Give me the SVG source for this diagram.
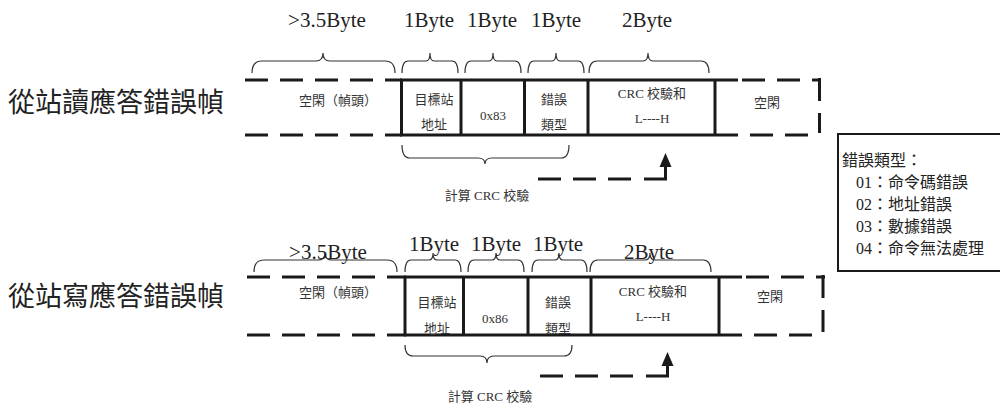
<svg xmlns="http://www.w3.org/2000/svg" width="1000" height="408" viewBox="0 0 1000 408">
<defs>
<style>
.t{font-family:"Liberation Serif","Noto Sans CJK TC",serif;fill:#222;}
.big{font-size:27px;}
.byte{font-size:21px;text-anchor:middle;}
.cell{font-size:13px;text-anchor:middle;fill:#333;}
.leg{font-size:16px;}
.solid{stroke:#1a1a1a;stroke-width:3;fill:none;}
.dash{stroke:#1a1a1a;stroke-width:3;fill:none;stroke-dasharray:23 12;}
.brace{stroke:#333;stroke-width:1.2;fill:none;}
.head{fill:#1a1a1a;}
</style>
</defs>
<rect width="1000" height="408" fill="#fff"/>

<g id="label-read"><text class="t big" x="8" y="112">從站讀應答錯誤幀</text></g>
<g id="label-write"><text class="t big" x="8" y="306">從站寫應答錯誤幀</text></g>

<!-- Frame 1 -->
<g id="frame1">
<path class="dash" d="M245,80 H402 M245,135 H402"/>
<path class="solid" d="M400,80 H738 M400,135 H738"/>
<path class="solid" d="M401.5,80 V135 M461,80 V135 M524.5,80 V135 M588,80 V135 M715,80 V135"/>
<path class="dash" d="M742,80 H821" stroke-dasharray="23 12"/>
<path class="dash" d="M750,135 H812" stroke-dasharray="25 10"/>
<path class="dash" d="M819.5,78 V133" stroke-dasharray="19 11"/>
</g>
<g id="bytes1">
<text class="t byte" x="327" y="27">&gt;3.5Byte</text>
<text class="t byte" x="429" y="27">1Byte</text>
<text class="t byte" x="492" y="27">1Byte</text>
<text class="t byte" x="556" y="27">1Byte</text>
<text class="t byte" x="647" y="27">2Byte</text>
</g>
<g id="braces1">
<path class="brace" d="M252,73 Q252,61 262,61 H316 Q323,61 323,53 Q323,61 330,61 H385 Q395,61 395,73"/>
<path class="brace" d="M402,73 Q402,61 408,61 H426 Q430,61 430,53 Q430,61 434,61 H452 Q458,61 458,73"/>
<path class="brace" d="M465,73 Q465,61 471,61 H489 Q493,61 493,53 Q493,61 497,61 H515 Q521,61 521,73"/>
<path class="brace" d="M528,73 Q528,61 534,61 H552 Q556,61 556,53 Q556,61 560,61 H578 Q584,61 584,73"/>
<path class="brace" d="M589,73 Q589,61 597,61 H643 Q648,61 648,53 Q648,61 653,61 H701 Q709,61 709,73"/>
<path class="brace" d="M402,145 Q402,158 410,158 H478 Q485,158 485,164 Q485,158 492,158 H561 Q569,158 569,145"/>
</g>
<g id="cells1">
<text class="t cell" x="338" y="105">空閑（幀頭）</text>
<text class="t cell" x="434" y="104">目標站</text>
<text class="t cell" x="434" y="129">地址</text>
<text class="t cell" x="493" y="120">0x83</text>
<text class="t cell" x="554" y="104">錯誤</text>
<text class="t cell" x="554" y="129">類型</text>
<text class="t cell" x="652" y="98">CRC 校驗和</text>
<text class="t cell" x="652" y="123">L----H</text>
<text class="t cell" x="767" y="107">空閑</text>
<text class="t cell" x="487" y="200">計算 CRC 校驗</text>
</g>

<!-- Frame 2 -->
<g id="frame2">
<path class="dash" d="M247,277 H406 M247,335 H406"/>
<path class="solid" d="M404,277 H742 M404,335 H742"/>
<path class="solid" d="M405,277 V335 M463.5,277 V335 M528,277 V335 M591,277 V335 M719,277 V335"/>
<path class="dash" d="M746,277 H825" stroke-dasharray="23 12"/>
<path class="dash" d="M754,335 H816" stroke-dasharray="25 10"/>
<path class="dash" d="M823,275 V332" stroke-dasharray="19 11"/>
</g>
<g id="braces2">
<path class="brace" d="M254,272 Q254,260 264,260 H318 Q325,260 325,253 Q325,260 332,260 H387 Q397,260 397,272"/>
<path class="brace" d="M405,272 Q405,260 411,260 H429 Q433,260 433,253 Q433,260 437,260 H455 Q461,260 461,272"/>
<path class="brace" d="M468,272 Q468,260 474,260 H492 Q496,260 496,253 Q496,260 500,260 H518 Q524,260 524,272"/>
<path class="brace" d="M532,272 Q532,260 538,260 H555 Q559,260 559,253 Q559,260 563,260 H581 Q587,260 587,272"/>
<path class="brace" d="M590,272 Q590,260 598,260 H645 Q650,260 650,253 Q650,260 655,260 H703 Q711,260 711,272"/>
<path class="brace" d="M405,345 Q405,356 413,356 H480 Q487,356 487,363 Q487,356 494,356 H564 Q572,356 572,345"/>
</g>
<g id="bytes2">
<text class="t byte" x="328" y="259">&gt;3.5Byte</text>
<text class="t byte" x="434" y="251">1Byte</text>
<text class="t byte" x="496" y="251">1Byte</text>
<text class="t byte" x="558" y="251">1Byte</text>
<text class="t byte" x="649" y="259">2Byte</text>
</g>
<g id="cells2">
<text class="t cell" x="338" y="297">空閑（幀頭）</text>
<text class="t cell" x="437" y="307">目標站</text>
<text class="t cell" x="437" y="333">地址</text>
<text class="t cell" x="495" y="323">0x86</text>
<text class="t cell" x="558" y="307">錯誤</text>
<text class="t cell" x="558" y="333">類型</text>
<text class="t cell" x="653" y="296">CRC 校驗和</text>
<text class="t cell" x="653" y="321">L----H</text>
<text class="t cell" x="770" y="301">空閑</text>
<text class="t cell" x="490" y="401">計算 CRC 校驗</text>
</g>

<g id="connectors">
<path class="dash" d="M538,179 H633" stroke-dasharray="24 11"/>
<path class="solid" d="M644,179 H665.5 V166"/>
<polygon class="head" points="665.5,153 659.5,167 671.5,167"/>
<path class="dash" d="M540,376 H635" stroke-dasharray="24 11"/>
<path class="solid" d="M646,376 H667.5 V365"/>
<polygon class="head" points="667.5,352 661.5,366 673.5,366"/>
</g>

<g id="legend">
<rect x="838" y="134" width="170" height="137" fill="#fff" stroke="#1a1a1a" stroke-width="2"/>
<text class="t leg" x="842" y="166">錯誤類型：</text>
<text class="t leg" x="856" y="188">01：命令碼錯誤</text>
<text class="t leg" x="856" y="210">02：地址錯誤</text>
<text class="t leg" x="856" y="232">03：數據錯誤</text>
<text class="t leg" x="856" y="254">04：命令無法處理</text>
</g>
</svg>
